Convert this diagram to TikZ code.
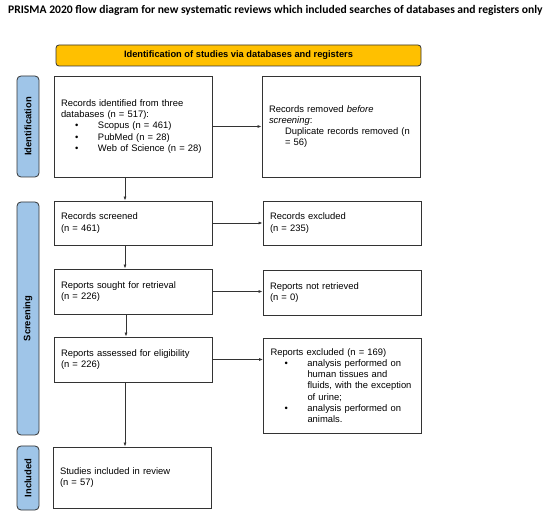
\documentclass[tikz,border=0pt]{standalone}
\usepackage{fontspec}
\setmainfont{Liberation Sans}
\newfontfamily\titlefont{Carlito}
\usepackage{xcolor}
\usetikzlibrary{arrows.meta}
\definecolor{bannergold}{HTML}{FFC000}
\definecolor{barblue}{HTML}{9FC5E8}
\definecolor{edgegray}{HTML}{333333}
\newcommand{\bline}[1]{\hspace*{14pt}\makebox[23pt][l]{\textbullet}#1}
\newcommand{\contline}[1]{\hspace*{37pt}#1}

\begin{document}
\begin{tikzpicture}[x=1pt,y=-1pt,
    box/.style={draw=edgegray, line width=0.8pt, minimum width=158pt, text width=144pt,
        inner xsep=7pt, inner ysep=0pt, align=left, font=\fontsize{9.4}{11.2}\selectfont},
    bar/.style={draw=edgegray, fill=barblue, line width=0.8pt, rounded corners=4pt, rotate=90,
        minimum height=22pt, inner sep=0pt, font=\bfseries\fontsize{9.4}{10}\selectfont},
    arr/.style={draw=edgegray, line width=0.7pt, -{Latex[length=4pt,width=3pt]}}]
    \useasboundingbox (0,0) rectangle (550,516);
    % title and banner
    \node[anchor=west, inner sep=0pt, font=\titlefont\bfseries\fontsize{11.6}{13}\selectfont] (title) at (8,10)
        {PRISMA 2020 flow diagram for new systematic reviews which included searches of databases and registers only};
    \node[draw=edgegray, fill=bannergold, line width=0.8pt, rounded corners=3pt, minimum width=365pt,
        minimum height=21pt, inner sep=0pt, font=\bfseries\fontsize{9.3}{10}\selectfont] (banner) at (238.5,55.5)
        {Identification of studies via databases and registers};
    % side bars
    \node[bar, minimum width=101pt] (identbar) at (28,126.5) {Identification};
    \node[bar, minimum width=233pt] (screenbar) at (28,318.5) {Screening};
    \node[bar, minimum width=64pt] (inclbar) at (28,478) {Included};
    % left column
    \node[box, minimum height=101pt] (records) at (133,126.5)
        {Records identified from three\\databases (n = 517):\\
        \bline{Scopus (n = 461)}\\\bline{PubMed (n = 28)}\\\bline{Web of Science (n = 28)}};
    \node[box, minimum height=44pt] (screened) at (133,223) {Records screened\\(n = 461)};
    \node[box, minimum height=45pt] (sought) at (133,291.5) {Reports sought for retrieval\\(n = 226)};
    \node[box, minimum height=45pt] (assessed) at (133,359.5) {Reports assessed for eligibility\\(n = 226)};
    \node[box, minimum height=61pt] (included) at (132,477.5) {Studies included in review\\(n = 57)};
    % right column
    \node[box, minimum height=101pt] (removed) at (341,126.5)
        {Records removed \textit{before}\\\textit{screening}:\\
        \hspace*{16pt}Duplicate records removed (n\\\hspace*{16pt}= 56)};
    \node[box, minimum height=44pt] (excluded) at (342,223) {Records excluded\\(n = 235)};
    \node[box, minimum height=45pt] (notretr) at (342,292.5) {Reports not retrieved\\(n = 0)};
    \node[box, minimum height=95pt] (repexcl) at (342.5,385.5)
        {Reports excluded (n = 169)\\
        \bline{analysis performed on}\\\contline{human tissues and}\\\contline{fluids, with the exception}\\
        \contline{of urine;}\\\bline{analysis performed on}\\\contline{animals.}};
    % arrows
    \draw[arr] (records.east) -- (removed.west);
    \draw[arr] (screened.east) -- (excluded.west);
    \draw[arr] (sought.east) -- (sought.east -| notretr.west);
    \draw[arr] (assessed.east) -- (assessed.east -| repexcl.west);
    \draw[arr] ([xshift=-8pt]records.south) -- ([xshift=-8pt]records.south |- screened.north);
    \draw[arr] ([xshift=-8pt]screened.south) -- ([xshift=-8pt]screened.south |- sought.north);
    \draw[arr] ([xshift=-7pt]sought.south) -- ([xshift=-7pt]sought.south |- assessed.north);
    \draw[arr] ([xshift=-8pt]assessed.south) -- ([xshift=-8pt]assessed.south |- included.north);
\end{tikzpicture}
\end{document}
